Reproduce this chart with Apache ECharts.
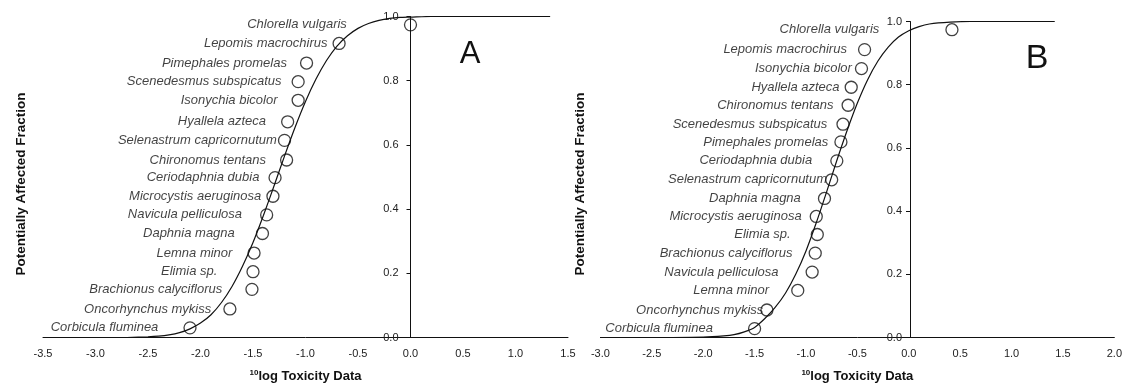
<!DOCTYPE html>
<html><head><meta charset="utf-8">
<script src="https://cdn.jsdelivr.net/npm/echarts@6/dist/echarts.min.js"></script>
<style>html,body{margin:0;padding:0;background:#fff}#c{width:1125px;height:388px}</style>
</head><body><div id="c"></div>
<script>
// ---------- Panel A data ----------
const speciesA = ['Corbicula fluminea','Oncorhynchus mykiss','Brachionus calyciflorus','Elimia sp.','Lemna minor','Daphnia magna','Navicula pelliculosa','Microcystis aeruginosa','Ceriodaphnia dubia','Chironomus tentans','Selenastrum capricornutum','Hyallela azteca','Isonychia bicolor','Scenedesmus subspicatus','Pimephales promelas','Lepomis macrochirus','Chlorella vulgaris'];
const toxA = [-2.10,-1.72,-1.51,-1.50,-1.49,-1.41,-1.37,-1.31,-1.29,-1.18,-1.20,-1.17,-1.07,-1.07,-0.99,-0.68,0.00];
const pafA = [0.030,0.089,0.150,0.205,0.263,0.324,0.382,0.440,0.498,0.553,0.614,0.672,0.739,0.797,0.855,0.916,0.974];
const curveAx = [-2.7,-2.5,-2.4,-2.3,-2.2,-2.1,-2.0,-1.9,-1.8,-1.7,-1.6,-1.5,-1.4,-1.3,-1.2,-1.1,-1.0,-0.9,-0.8,-0.7,-0.6,-0.5,-0.4,-0.3,-0.2,-0.1,0.0,0.2,0.5,1.33];
const curveAy = [0.0,0.002,0.004,0.008,0.015,0.027,0.045,0.071,0.109,0.159,0.222,0.296,0.381,0.472,0.565,0.654,0.735,0.805,0.863,0.908,0.940,0.963,0.978,0.988,0.994,0.997,0.998,1.0,1.0,1.0];

// ---------- Panel B data ----------
const speciesB = ['Corbicula fluminea','Oncorhynchus mykiss','Lemna minor','Navicula pelliculosa','Brachionus calyciflorus','Elimia sp.','Microcystis aeruginosa','Daphnia magna','Selenastrum capricornutum','Ceriodaphnia dubia','Pimephales promelas','Scenedesmus subspicatus','Chironomus tentans','Hyallela azteca','Isonychia bicolor','Lepomis macrochirus','Chlorella vulgaris'];
const toxB = [-1.50,-1.38,-1.08,-0.94,-0.91,-0.89,-0.90,-0.82,-0.75,-0.70,-0.66,-0.64,-0.59,-0.56,-0.46,-0.43,0.42];
const pafB = [0.028,0.087,0.149,0.207,0.267,0.326,0.383,0.440,0.499,0.559,0.619,0.675,0.735,0.792,0.851,0.911,0.974];
const curveBx = [-2.3,-2.0,-1.8,-1.7,-1.6,-1.5,-1.4,-1.3,-1.2,-1.1,-1.0,-0.9,-0.8,-0.7,-0.6,-0.5,-0.4,-0.3,-0.2,-0.1,0.0,0.1,0.2,0.4,0.6,1.42];
const curveBy = [0.0,0.001,0.005,0.009,0.018,0.032,0.060,0.095,0.140,0.200,0.274,0.363,0.460,0.560,0.655,0.742,0.816,0.875,0.919,0.951,0.971,0.984,0.992,0.998,1.0,1.0];

// ---------- styling (label gaps from circle centre, px) ----------
const labelGapA = [31,18,29,35,21,27,24,11,15,20,7,21,20,16,19,11,63];
const labelGapB = [41,3,28,33,22,26,14,23,4,24,12,15,14,11,9,17,72];

const FONT = '"Liberation Sans", Arial, sans-serif';
const INK = '#111';

function points(names, xs, ys, gaps) {
  return names.map((n, i) => ({ name: n, value: [xs[i], ys[i]], label: { distance: gaps[i] - 6 } }));
}
function pairs(xs, ys) { return xs.map((x, i) => [x, ys[i]]); }

function mkX(idx, min, max) {
  return {
    type: 'value', gridIndex: idx, min: min, max: max, interval: 0.5,
    axisLine: { onZero: false, lineStyle: { color: INK, width: 1 } },
    axisTick: { show: false },
    splitLine: { show: false },
    axisLabel: { margin: 11, fontSize: 11, color: '#222', fontFamily: FONT, formatter: v => v.toFixed(1) },
    name: '{s|10}{m|log Toxicity Data}',
    nameLocation: 'middle', nameGap: 31,
    nameTextStyle: {
      rich: {
        s: { fontSize: 8, fontWeight: 'bold', fontFamily: FONT, color: INK, verticalAlign: 'top' },
        m: { fontSize: 13, fontWeight: 'bold', fontFamily: FONT, color: INK, lineHeight: 16 }
      }
    }
  };
}
// yAxis sits at x = 0 of its panel: shift it from the grid's left edge with a negative offset
function mkY(idx, margin, shift) {
  return {
    type: 'value', gridIndex: idx, min: 0, max: 1, interval: 0.2,
    position: 'left', offset: -shift,
    axisLine: { onZero: false, lineStyle: { color: INK, width: 1 } },
    axisTick: { show: true, length: 4, lineStyle: { color: INK } },
    splitLine: { show: false },
    axisLabel: { margin: margin, fontSize: 11, color: '#222', fontFamily: FONT, formatter: v => v.toFixed(1) }
  };
}
function scatter(idx, data) {
  return {
    type: 'scatter', xAxisIndex: idx, yAxisIndex: idx, symbol: 'circle', symbolSize: 12, z: 3,
    itemStyle: { color: 'rgba(0,0,0,0)', borderColor: INK, borderWidth: 1.3 },
    label: { show: true, position: 'left', formatter: '{b}', fontStyle: 'italic', fontSize: 13, color: INK, fontFamily: FONT },
    emphasis: { disabled: true },
    data: data
  };
}
function curve(idx, data) {
  return {
    type: 'line', xAxisIndex: idx, yAxisIndex: idx, data: data, smooth: 0.25,
    showSymbol: false, lineStyle: { color: INK, width: 1.2 }, z: 2, emphasis: { disabled: true }
  };
}

const gA = { left: 43, top: 16.5, width: 525, height: 326.5 };
const gB = { left: 600.4, top: 21.5, width: 516, height: 321.5 };
const chart = echarts.init(document.getElementById('c'));
chart.setOption({
  animation: false,
  backgroundColor: '#fff',
  grid: [gA, gB],
  xAxis: [mkX(0, -3.5, 1.5), mkX(1, -3, 2)],
  yAxis: [mkY(0, 12, gA.width * 3.5 / 5), mkY(1, 8, gB.width * 3 / 5)],
  series: [
    curve(0, pairs(curveAx, curveAy)),
    scatter(0, points(speciesA, toxA, pafA, labelGapA)),
    curve(1, pairs(curveBx, curveBy)),
    scatter(1, points(speciesB, toxB, pafB, labelGapB))
  ],
  graphic: [
    { type: 'text', x: 21, y: 184, rotation: Math.PI / 2,
      style: { text: 'Potentially Affected Fraction', font: 'bold 13.5px ' + FONT, fill: INK, align: 'center', verticalAlign: 'middle' } },
    { type: 'text', x: 580, y: 184, rotation: Math.PI / 2,
      style: { text: 'Potentially Affected Fraction', font: 'bold 13.5px ' + FONT, fill: INK, align: 'center', verticalAlign: 'middle' } },
    { type: 'text', x: 470, y: 54,
      style: { text: 'A', font: '31px ' + FONT, fill: INK, align: 'center', verticalAlign: 'middle' } },
    { type: 'text', x: 1037, y: 59,
      style: { text: 'B', font: '34px ' + FONT, fill: INK, align: 'center', verticalAlign: 'middle' } }
  ]
});
</script>
</body></html>
